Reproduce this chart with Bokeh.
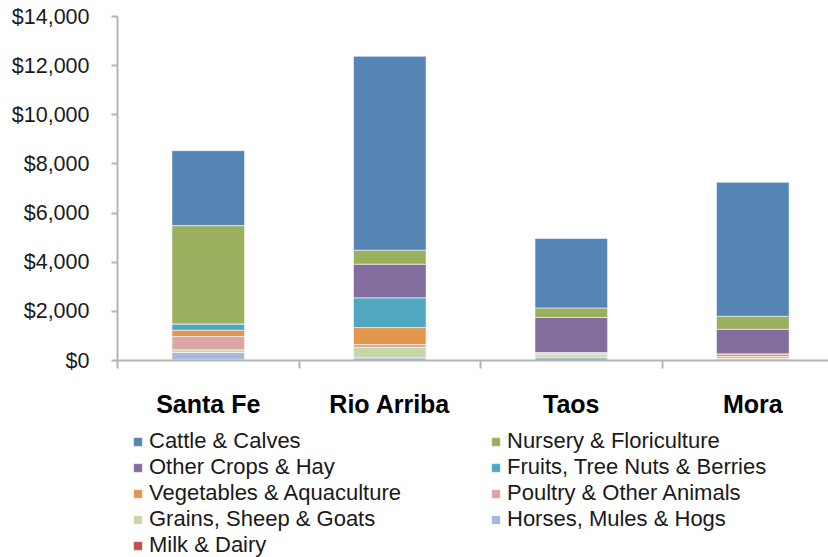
from bokeh.plotting import figure
from bokeh.layouts import column
from bokeh.models import (Range1d, FixedTicker, NumeralTickFormatter, CustomJSTickFormatter,
                          ColumnDataSource, Legend, LegendItem)
from bokeh.embed import file_html
from bokeh.resources import INLINE

counties = ["Santa Fe", "Rio Arriba", "Taos", "Mora"]

# Market value of agricultural products sold, by commodity group ($1,000s),
# listed in stacking order from the bottom of each bar upward
milk_dairy = [50, 0, 0, 0]
horses_mules_hogs = [275, 110, 130, 60]
grains_sheep_goats = [110, 420, 110, 30]
poultry_other = [540, 120, 65, 70]
vegetables_aqua = [255, 690, 20, 110]
fruits_nuts_berries = [260, 1210, 0, 0]
other_crops_hay = [0, 1370, 1425, 1000]
nursery_flori = [4000, 570, 390, 530]
cattle_calves = [3050, 7890, 2830, 5450]

y_ticks = [0, 2000, 4000, 6000, 8000, 10000, 12000, 14000]

series = [
    ("milk_dairy", "Milk & Dairy", milk_dairy, "#C0504D"),
    ("horses_mules_hogs", "Horses, Mules & Hogs", horses_mules_hogs, "#A5B9DB"),
    ("grains_sheep_goats", "Grains, Sheep & Goats", grains_sheep_goats, "#C7D8A8"),
    ("poultry_other", "Poultry & Other Animals", poultry_other, "#DDA6A5"),
    ("vegetables_aqua", "Vegetables & Aquaculture", vegetables_aqua, "#E2974C"),
    ("fruits_nuts_berries", "Fruits, Tree Nuts & Berries", fruits_nuts_berries, "#4FA8C0"),
    ("other_crops_hay", "Other Crops & Hay", other_crops_hay, "#836D9F"),
    ("nursery_flori", "Nursery & Floriculture", nursery_flori, "#9BB05E"),
    ("cattle_calves", "Cattle & Calves", cattle_calves, "#5585B5"),
]

data = {"x": [i + 0.5 for i in range(len(counties))]}
for key, _, vals, _ in series:
    data[key] = vals
source = ColumnDataSource(data)

p = figure(width=828, height=420, output_backend="svg", toolbar_location=None,
           x_range=Range1d(0, 3.917), y_range=Range1d(0, 14000),
           min_border_left=117, min_border_right=0, min_border_top=16, min_border_bottom=60)
p.outline_line_color = None
p.background_fill_color = "white"
p.border_fill_color = "white"

bar_style = dict(line_color="white", line_alpha=0.55, line_width=1)
p.vbar_stack([s[0] for s in series], x="x", width=0.4, source=source,
             fill_color=[s[3] for s in series], **bar_style)

axis_gray = "#b4b4b4"

# value axis
p.yaxis.ticker = FixedTicker(ticks=y_ticks)
p.yaxis.formatter = NumeralTickFormatter(format="$0,0")
p.yaxis.major_label_text_font = "Liberation Sans"
p.yaxis.major_label_text_font_size = "21.5px"
p.yaxis.major_label_text_color = "#1a1a1a"
p.yaxis.major_tick_out = 6
p.yaxis.major_tick_in = 0
p.yaxis.minor_tick_out = 0
p.yaxis.minor_tick_in = 0
p.yaxis.major_label_standoff = 22

# county axis: labels centred under bars, ticks between categories
p.xaxis.ticker = FixedTicker(ticks=data["x"], minor_ticks=list(range(len(counties))))
p.xaxis.formatter = CustomJSTickFormatter(args=dict(names=counties),
                                          code="return names[Math.floor(tick)]")
p.xaxis.major_label_text_font = "Liberation Sans"
p.xaxis.major_label_text_font_style = "bold"
p.xaxis.major_label_text_font_size = "25px"
p.xaxis.major_label_text_color = "black"
p.xaxis.major_tick_out = 0
p.xaxis.major_tick_in = 0
p.xaxis.minor_tick_out = 8
p.xaxis.minor_tick_in = 0
p.xaxis.minor_tick_line_color = axis_gray
p.xaxis.minor_tick_line_width = 2
p.xaxis.major_label_standoff = 21

for ax in (p.xaxis, p.yaxis):
    ax.axis_line_color = axis_gray
    ax.axis_line_width = 2
    ax.major_tick_line_color = axis_gray
    ax.major_tick_line_width = 2

p.xgrid.grid_line_color = None
p.ygrid.ticker = FixedTicker(ticks=[y_ticks[-1]])
p.ygrid.grid_line_color = "#dcdcdc"
p.ygrid.grid_line_width = 2

# legend panel underneath the chart, two columns of commodity groups
# (its frame lines up with the chart frame in the column layout)
lg = figure(width=828, height=137, output_backend="svg", toolbar_location=None,
            x_axis_location=None, y_axis_location=None,
            min_border=0, min_border_left=0, min_border_right=0,
            min_border_top=0, min_border_bottom=0)
lg.outline_line_color = None
lg.xgrid.visible = False
lg.ygrid.visible = False
key_renderers = lg.vbar_stack([s[0] for s in series], x="x", width=0.4, source=source,
                              fill_color=[s[3] for s in series], **bar_style)
for r in key_renderers:
    r.visible = False
by_key = {s[0]: (s[1], r) for s, r in zip(series, key_renderers)}

col1 = ["cattle_calves", "other_crops_hay", "vegetables_aqua", "grains_sheep_goats", "milk_dairy"]
col2 = ["nursery_flori", "fruits_nuts_berries", "poultry_other", "horses_mules_hogs"]
row_h, gap, top = 26, 0, 8


def make_legend(keys, x):
    items = [LegendItem(label=by_key[k][0], renderers=[by_key[k][1]]) for k in keys]
    height = len(keys) * row_h + (len(keys) - 1) * gap
    leg = Legend(items=items, location=(x, 137 - top - height), orientation="vertical",
                 border_line_color=None, background_fill_alpha=0, padding=0, margin=0,
                 label_text_font="Liberation Sans", label_text_font_size="22px",
                 label_text_color="#1a1a1a", glyph_width=11, glyph_height=11,
                 label_standoff=6, label_height=row_h, spacing=gap)
    lg.add_layout(leg, "center")


make_legend(col1, 15)
make_legend(col2, 373)

open("out.html", "w").write(file_html(column(p, lg, spacing=0), INLINE))
